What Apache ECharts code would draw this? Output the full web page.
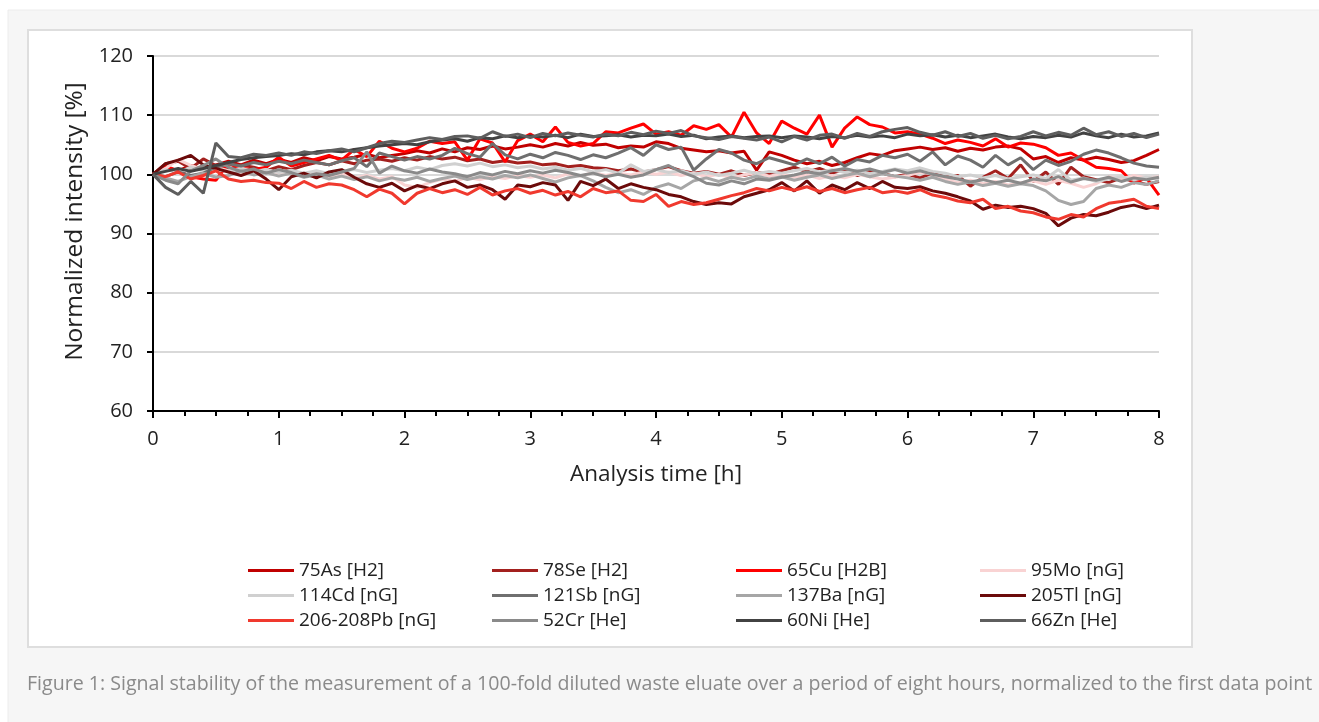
<!DOCTYPE html>
<html>
<head>
<meta charset="utf-8">
<title>Signal stability</title>
<script src="https://cdn.jsdelivr.net/npm/echarts@6/dist/echarts.min.js"></script>
<style>
  html, body { margin: 0; padding: 0; background: #fff; }
  #main { width: 1319px; height: 722px; }
</style>
</head>
<body>
<div id="main"></div>
<script>
// analysis time [h]
var times = [
  0.0, 0.1, 0.2, 0.3, 0.4, 0.5, 0.6, 0.7, 0.8, 0.9,
  1.0, 1.1, 1.2, 1.3, 1.4, 1.5, 1.6, 1.7, 1.8, 1.9,
  2.0, 2.1, 2.2, 2.3, 2.4, 2.5, 2.6, 2.7, 2.8, 2.9,
  3.0, 3.1, 3.2, 3.3, 3.4, 3.5, 3.6, 3.7, 3.8, 3.9,
  4.0, 4.1, 4.2, 4.3, 4.4, 4.5, 4.6, 4.7, 4.8, 4.9,
  5.0, 5.1, 5.2, 5.3, 5.4, 5.5, 5.6, 5.7, 5.8, 5.9,
  6.0, 6.1, 6.2, 6.3, 6.4, 6.5, 6.6, 6.7, 6.8, 6.9,
  7.0, 7.1, 7.2, 7.3, 7.4, 7.5, 7.6, 7.7, 7.8, 7.9,
  8.0
];

// normalized intensity [%]
var as75 = [
  100, 101.2, 100.6, 101.5, 100.8, 101.6, 102.2, 101.6, 102.4, 101.8,
  102.5, 102, 102.8, 102.3, 103, 102.6, 102.9, 103.4, 102.8, 103.2,
  103.5, 104, 103.6, 104.3, 103.8, 104.5, 104.2, 104.8, 104.3, 104.6,
  105, 104.6, 105.2, 104.8, 105.4, 104.9, 105.1, 104.5, 104.8, 104.6,
  105.5, 105.2, 104.4, 104.1, 103.8, 104, 103.6, 103.9, 100.7, 103.8,
  103.2, 102.4, 101.8, 102.2, 101.5, 102, 102.8, 103.5, 103.2, 104,
  104.3, 104.6, 104.2, 104.5, 103.9, 104.4, 104.1, 104.6, 104.8, 104.3,
  102.6, 103, 102, 102.8, 102.4, 102.9, 102.5, 102, 102.3, 103.2,
  104.2
];
var se78 = [
  100, 101.8, 102.2, 101, 102.6, 101.5, 100.8, 101.6, 101.2, 100.6,
  101.3, 100.8, 101.5, 102, 101.6, 102.3, 101.8, 102.4, 102.6, 102.2,
  102.8, 102.4, 103, 102.6, 102.9, 102.3, 102.6, 102, 102.3, 101.9,
  102.1, 101.6, 101.8, 101.3, 101.5, 101.1, 101, 100.6, 100.9, 100.4,
  100.8, 101.3, 100.6, 100.2, 100.5, 100, 100.6, 99.8, 100.3, 100,
  100.6, 101.2, 100.4, 101, 100.2, 100.8, 99.8, 100.5, 100.2, 99.6,
  100, 99.4, 100.2, 99.5, 99.8, 98, 99.5, 100.6, 99.3, 101.6,
  98.8, 100.4, 98.3, 101.2, 99.6, 99.1, 98.6, 99.4, 98.8, 98.3,
  98.8
];
var cu65 = [
  100, 101.4, 100.6, 99.6, 99.2, 99, 101.8, 101, 100.8, 101.2,
  102.9, 101.4, 102, 102.6, 103.2, 102.4, 104.2, 103, 105.6, 104.4,
  103.8, 104.4, 105.6, 105.2, 105.5, 102.4, 106, 105.3, 102.1, 105.7,
  106.8, 105.5, 108, 105.4, 104.8, 105.2, 107.2, 107, 107.8, 108.5,
  106.8, 107.2, 106.6, 108.2, 107.6, 108.4, 106.3, 110.5, 107, 105.2,
  109, 107.8, 106.8, 110, 104.6, 107.8, 109.7, 108.4, 108, 107,
  107.2, 106.8, 106.1, 105.2, 105.8, 105.4, 104.8, 106, 104.6, 105.3,
  105.1, 104.5, 103.2, 103.6, 102.4, 101.2, 101, 100.6, 98.5, 99.4,
  96.5
];
var mo95 = [
  100, 101, 102.5, 101.5, 100.8, 101.2, 100.6, 101, 100.4, 100.8,
  100.2, 100.6, 99.8, 100.4, 99.6, 100.2, 99.4, 99.8, 99.2, 99.6,
  98.2, 97.8, 98.6, 99.2, 98.8, 99.5, 99.1, 99.6, 99.3, 99.8,
  99.5, 99.9, 99.4, 100.1, 99.7, 100.3, 99.8, 100.2, 99.9, 100.4,
  100, 100.4, 99.8, 100.2, 99.6, 100, 99.4, 99.9, 100.3, 99.7,
  100.1, 99.5, 99.9, 99.3, 99.8, 99.4, 100, 99.6, 99.2, 99.5,
  99.8, 100.4, 100, 99.2, 98.6, 99, 98.4, 98.8, 98.2, 98.6,
  98.9, 98.3, 99, 98.5, 97.8, 98.4, 99.6, 99.2, 99.8, 99.4,
  99.6
];
var cd114 = [
  100, 100.8, 100.3, 101.2, 100.6, 100.9, 100.4, 101, 100.5, 100.8,
  100.3, 100.7, 100.2, 100.6, 100.1, 100.5, 100.8, 100.3, 100.7, 101,
  100.6, 101.2, 100.8, 101.5, 101.8, 101.4, 101.9, 101.3, 101.6, 101.1,
  101.4, 100.9, 101.2, 100.7, 101, 100.4, 100.8, 100.2, 101.6, 100.5,
  100.8, 100.3, 100.6, 100, 100.4, 99.8, 100.2, 100.7, 100.1, 100.5,
  100.2, 100.6, 101, 100.4, 100.8, 100.3, 100.7, 100.1, 100.5, 100.9,
  100.6, 101.1, 100.5, 100.2, 99.6, 99.9, 99.4, 99.8, 99.2, 99.6,
  99.9, 99.3, 100.8, 99, 99.4, 98.8, 99.2, 99.6, 99.1, 99.5,
  99.3
];
var sb121 = [
  100, 99.6, 100.4, 99.8, 100.2, 101.2, 101.8, 101.4, 102, 101.6,
  102.2, 101.8, 102.4, 102, 101.6, 102.3, 102.8, 101.3, 103.6, 103,
  102.4, 103, 102.6, 103.2, 104.4, 103.5, 102.9, 105.2, 103.3, 102.6,
  103.4, 102.8, 103.7, 103.2, 102.5, 103.3, 102.8, 103.6, 104.5, 103.2,
  105, 104.2, 104.6, 100.7, 102.6, 104.2, 103.6, 102.4, 101.8, 102.8,
  102.2, 101.6, 102.6, 101.8, 102.9, 101.4, 102.5, 102.1, 103.2, 102.8,
  103.4, 102.2, 103.8, 101.6, 103.1, 102.4, 101.2, 103.2, 101.6, 102.8,
  100.8, 102.4, 101.5, 102.2, 103.4, 104.1, 103.6, 102.8, 101.9, 101.4,
  101.2
];
var ba137 = [
  100, 99.4, 98.8, 99.6, 100.2, 99.5, 99.8, 100.6, 99.9, 100.3,
  99.7, 100.2, 99.5, 99.9, 99.2, 99.7, 99.1, 99.6, 98.9, 99.4,
  99, 99.5, 98.8, 99.3, 99.7, 99.1, 99.6, 99.2, 99.8, 99.4,
  99.9, 99.3, 98.7, 99.4, 99.8, 98.9, 97.8, 96.9, 97.4, 96.6,
  97.8, 98.4, 97.6, 98.9, 99.4, 98.8, 99.5, 99.1, 99.7, 99.2,
  99.6, 99, 99.5, 99.9, 99.3, 99.8, 100.2, 99.6, 100.1, 99.7,
  99.4, 99, 99.5, 98.8, 98.3, 98.7, 98.1, 98.5, 98, 98.4,
  98.1, 97.2, 95.6, 94.9, 95.4, 97.6, 98.2, 97.8, 98.6, 98.3,
  98.9
];
var tl205 = [
  100, 101.8, 102.4, 103.2, 101.6, 101, 100.4, 99.8, 100.6, 99.2,
  97.4, 99.6, 100.2, 99.4, 100.4, 100.8, 99.5, 98.4, 97.8, 98.5,
  97.2, 98.1, 97.6, 98.4, 98.9, 97.8, 98.2, 97.4, 95.8, 98.2,
  97.9, 98.6, 98.2, 95.6, 98.8, 98.1, 99.2, 97.6, 98.4, 97.8,
  97.4, 96.6, 96.2, 95.4, 94.9, 95.2, 95, 96.2, 96.8, 97.4,
  98.6, 97.2, 98.9, 96.8, 98.2, 97.4, 98.6, 97.6, 98.8, 97.8,
  97.6, 97.9, 97.2, 96.8, 96.2, 95.5, 94.1, 94.8, 94.4, 94.6,
  94.2, 93.4, 91.3, 92.6, 93.2, 93, 93.6, 94.4, 94.8, 94.2,
  94.8
];
var pb206 = [
  100, 99.6, 100.4, 99.2, 99.8, 100.6, 99.2, 98.8, 99, 98.6,
  98.5, 97.6, 98.8, 97.8, 98.4, 98.2, 97.4, 96.2, 97.5, 96.8,
  95, 96.8, 97.6, 96.9, 97.4, 96.6, 97.8, 96.5, 97.2, 97.6,
  96.8, 97.3, 96.5, 97.1, 96.2, 97.6, 96.9, 97.2, 95.6, 95.4,
  96.6, 94.6, 95.4, 94.9, 95.2, 95.8, 96.4, 96.9, 97.6, 97.2,
  97.8, 97.3, 97.9, 97.1, 97.6, 96.9, 97.4, 97.8, 96.9, 97.2,
  96.8, 97.4, 96.5, 96.1, 95.5, 95.2, 95.8, 94.2, 94.6, 93.8,
  93.5, 92.8, 92.4, 93.2, 92.8, 94.2, 95.1, 95.4, 95.8, 94.6,
  94.2
];
var cr52 = [
  100, 99, 98.4, 100.6, 101.5, 102.6, 101.2, 100.5, 100.9, 100.2,
  100.8, 100.3, 99.6, 100.1, 99.8, 100.4, 101, 103.8, 100.2, 101.4,
  100.6, 100.2, 100.9, 100.4, 100.1, 99.6, 100.3, 99.9, 100.5, 100.1,
  100.6, 100.2, 100.7, 100.3, 99.8, 100.2, 99.6, 100, 99.5, 99.9,
  100.8, 101.5, 100.4, 99.6, 98.5, 98.2, 98.9, 98.4, 99.2, 99,
  99.5, 99.9, 100.4, 100.1, 100.6, 101, 100.5, 100.9, 100.3, 100.8,
  100.2, 100.6, 100, 99.6, 99.2, 98.7, 99.1, 98.6, 99, 98.5,
  99.2, 98.9, 99.6, 98.7, 99.3, 99, 99.5, 98.8, 99.4, 99.1,
  99.5
];
var ni60 = [
  100, 100.5, 101, 100.5, 101, 101.5, 102, 102.5, 102.8, 103,
  103.2, 103.5, 103.3, 103.8, 104, 103.8, 104.2, 104.5, 104.8, 105,
  105.2, 105, 105.5, 105.8, 106, 105.6, 106.2, 106, 106.5, 106.2,
  106.5, 106.3, 106.6, 106.2, 106.8, 106.4, 106.5, 106.7, 106.3, 106.6,
  106.5, 106.8, 106.4, 106.6, 106, 106.3, 106.5, 106.2, 106.4, 106.5,
  106.2, 106.5, 106.3, 106, 106.4, 106.2, 106.6, 106.3, 106.5, 106.2,
  106.8, 106.5, 106.7, 106.3, 106.6, 106.2, 106.5, 106.8, 106.3, 106,
  106.4, 106.2, 106.6, 106.3, 107, 106.5, 106.2, 106.8, 106.3, 106.5,
  107
];
var zn66 = [
  100, 97.8, 96.6, 98.8, 96.8, 105.3, 103, 102.8, 103.4, 103.2,
  103.6, 103.2, 103.8, 103.5, 104, 104.3, 103.8, 104.5, 105.2, 105.6,
  105.4, 105.8, 106.2, 105.9, 106.4, 106.5, 106.1, 107.2, 106.4, 106.8,
  106.2, 106.9, 106.5, 107, 106.6, 106.3, 106.8, 106.5, 107.1, 106.7,
  107.3, 106.9, 107.4, 106.5, 106.2, 105.9, 106.4, 106.1, 105.8, 106.3,
  105.5, 106.4, 105.8, 106.6, 106.8, 106.1, 106.9, 106.4, 107.2, 107.6,
  107.9, 107.1, 106.6, 107.2, 106.4, 106.9, 106.1, 106.6, 106, 106.4,
  107.2, 106.5, 107.1, 106.6, 107.8, 106.7, 107.2, 106.4, 106.9, 106.2,
  106.8
];

var names = ['75As [H2]', '78Se [H2]', '65Cu [H2B]', '95Mo [nG]', '114Cd [nG]', '121Sb [nG]',
             '137Ba [nG]', '205Tl [nG]', '206-208Pb [nG]', '52Cr [He]', '60Ni [He]', '66Zn [He]'];
var values = [as75, se78, cu65, mo95, cd114, sb121, ba137, tl205, pb206, cr52, ni60, zn66];
var colors = ['#c00000', '#a3201e', '#ff0000', '#f9d3d3', '#d0d0d0', '#6f6f6f',
              '#a6a6a6', '#6b0a0a', '#f0392e', '#8a8a8a', '#424242', '#5e5e5e'];

// legend in 4 columns, 3 rows (same order as the figure)
var legendCols = [
  ['75As [H2]', '114Cd [nG]', '206-208Pb [nG]'],
  ['78Se [H2]', '121Sb [nG]', '52Cr [He]'],
  ['65Cu [H2B]', '137Ba [nG]', '60Ni [He]'],
  ['95Mo [nG]', '205Tl [nG]', '66Zn [He]']
];
var legendLeft = [248, 492, 736, 980];

var font = '"Open Sans", "Noto Sans", sans-serif';

var series = names.map(function (name, k) {
  return {
    name: name,
    type: 'line',
    symbol: 'none',
    showSymbol: false,
    lineStyle: { width: 3, color: colors[k] },
    itemStyle: { color: colors[k] },
    data: times.map(function (t, i) { return [t, values[k][i]]; })
  };
});

var option = {
  animation: false,
  backgroundColor: '#ffffff',
  textStyle: { fontFamily: font },
  graphic: [
    { type: 'rect', z: -10, shape: { x: 8, y: 10, width: 1320, height: 720 },
      style: { fill: '#f6f6f6', stroke: '#ececec', lineWidth: 1 } },
    { type: 'rect', z: -9, shape: { x: 28, y: 30, width: 1164, height: 617 },
      style: { fill: '#ffffff', stroke: '#dedede', lineWidth: 2 } }
  ],
  title: {
    text: 'Figure 1: Signal stability of the measurement of a 100-fold diluted waste eluate over a period of eight hours, normalized to the first data point',
    left: 22,
    top: 669,
    textStyle: { fontSize: 19.6, fontWeight: 'normal', color: '#8a8a8a', fontFamily: font }
  },
  legend: legendCols.map(function (col, c) {
    return {
      data: col,
      orient: 'vertical',
      left: legendLeft[c],
      top: 561,
      padding: 0,
      itemWidth: 46,
      itemHeight: 3,
      itemGap: 6,
      icon: 'rect',
      selectedMode: false,
      textStyle: { fontSize: 19, color: '#222', fontFamily: font }
    };
  }),
  grid: { left: 153, right: 160, top: 56, bottom: 311 },
  xAxis: {
    type: 'value',
    min: 0,
    max: 8,
    interval: 1,
    name: 'Analysis time [h]',
    nameLocation: 'middle',
    nameGap: 52,
    nameTextStyle: { fontSize: 22.5, color: '#222' },
    axisLine: { lineStyle: { color: '#000', width: 2 } },
    axisTick: { length: 7, lineStyle: { color: '#000', width: 2 } },
    minorTick: { show: true, splitNumber: 4, length: 5, lineStyle: { color: '#000', width: 2 } },
    axisLabel: { fontSize: 20, color: '#222', margin: 18 },
    splitLine: { show: false }
  },
  yAxis: {
    type: 'value',
    min: 60,
    max: 120,
    interval: 10,
    name: 'Normalized intensity [%]',
    nameLocation: 'middle',
    nameGap: 64,
    nameTextStyle: { fontSize: 24.5, color: '#222', padding: [0, 0, 0, 24] },
    axisLine: { show: true, lineStyle: { color: '#000', width: 2 } },
    axisTick: { show: true, length: 6, lineStyle: { color: '#000', width: 2 } },
    axisLabel: { fontSize: 20, color: '#222', margin: 20 },
    splitLine: { lineStyle: { color: '#d9d9d9', width: 2 } }
  },
  series: series
};

var myChart = echarts.init(document.getElementById('main'));
myChart.setOption(option);
</script>
</body>
</html>
